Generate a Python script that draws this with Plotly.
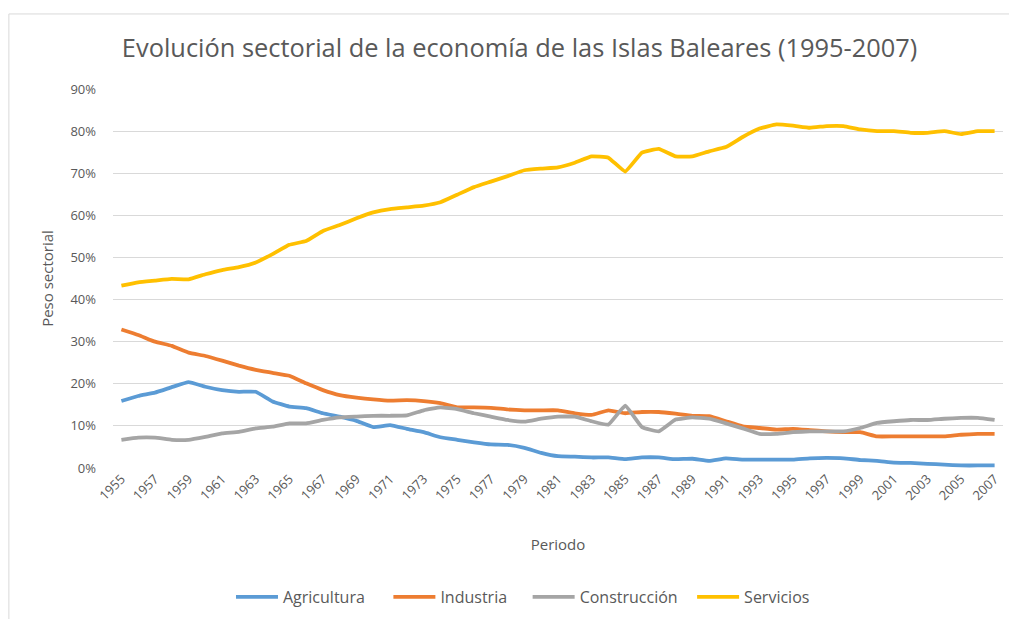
import plotly.graph_objects as go

years = list(range(1955, 2008))

agricultura = [15.9, 17.1, 17.9, 19.2, 20.4, 19.3, 18.5, 18.1, 18.1, 15.8,
               14.6, 14.2, 13.0, 12.2, 11.2, 9.7, 10.2, 9.3, 8.5, 7.3,
               6.7, 6.1, 5.6, 5.5, 4.8, 3.6, 2.8, 2.7, 2.5, 2.5,
               2.1, 2.5, 2.5, 2.1, 2.2, 1.7, 2.3, 2.0, 2.0, 2.0,
               2.0, 2.3, 2.4, 2.3, 1.9, 1.7, 1.3, 1.2, 1.0, 0.8,
               0.6, 0.6, 0.6]

industria = [32.9, 31.6, 30.0, 29.0, 27.4, 26.6, 25.5, 24.3, 23.3, 22.6,
             21.9, 20.1, 18.5, 17.3, 16.7, 16.3, 16.0, 16.1, 15.9, 15.4,
             14.4, 14.4, 14.3, 13.9, 13.7, 13.7, 13.7, 13.0, 12.6, 13.7,
             13.0, 13.3, 13.3, 12.9, 12.4, 12.3, 11.1, 9.9, 9.5, 9.1,
             9.3, 9.0, 8.7, 8.5, 8.5, 7.5, 7.5, 7.5, 7.5, 7.5,
             7.9, 8.1, 8.1]

construccion = [6.7, 7.2, 7.2, 6.7, 6.7, 7.4, 8.2, 8.6, 9.4, 9.8,
                10.6, 10.6, 11.4, 12.0, 12.2, 12.4, 12.4, 12.5, 13.7, 14.4,
                14.0, 13.0, 12.2, 11.4, 11.0, 11.7, 12.2, 12.2, 11.1, 10.3,
                14.8, 9.7, 8.7, 11.5, 12.0, 11.7, 10.6, 9.4, 8.1, 8.1,
                8.5, 8.7, 8.7, 8.7, 9.5, 10.7, 11.1, 11.4, 11.4, 11.7,
                11.9, 11.9, 11.4]

servicios = [43.3, 44.1, 44.5, 44.9, 44.8, 46.0, 47.0, 47.7, 48.8, 50.8,
             53.0, 53.9, 56.3, 57.7, 59.3, 60.7, 61.5, 61.9, 62.3, 63.1,
             64.9, 66.7, 68.0, 69.3, 70.7, 71.1, 71.4, 72.5, 74.0, 73.7,
             70.4, 74.9, 75.8, 74.0, 74.0, 75.2, 76.2, 78.6, 80.6, 81.6,
             81.3, 80.8, 81.2, 81.2, 80.4, 80.0, 80.0, 79.6, 79.6, 80.0,
             79.3, 80.0, 80.0]

series_names = ["Agricultura", "Industria", "Construcción", "Servicios"]
series_values = [agricultura, industria, construccion, servicios]
series_colors = ["#5B9BD5", "#ED7D31", "#A5A5A5", "#FFC000"]

tick_years = years[::2]
y_ticks = [0, 0.1, 0.2, 0.3, 0.4, 0.5, 0.6, 0.7, 0.8, 0.9]

FONT = "Open Sans, Liberation Sans, sans-serif"
GREY = "#595959"

legend_ids = ["legend", "legend2", "legend3", "legend4"]
legend_x = [0.221, 0.377, 0.515, 0.678]

fig = go.Figure()
for name, vals, col, lid in zip(series_names, series_values, series_colors, legend_ids):
    fig.add_trace(go.Scatter(
        x=years, y=[v / 100 for v in vals], name=name, mode="lines",
        line=dict(color=col, width=3.8, shape="spline", smoothing=0.3),
        legend=lid,
    ))

legend_layout = {}
for lid, lx in zip(legend_ids, legend_x):
    legend_layout[lid] = dict(
        orientation="h", x=lx, xanchor="left", xref="container",
        y=0.036, yanchor="middle", yref="container",
        font=dict(family=FONT, size=16, color=GREY),
        itemwidth=42, bgcolor="rgba(0,0,0,0)",
    )

fig.update_layout(
    width=1009, height=611,
    paper_bgcolor="white", plot_bgcolor="white",
    margin=dict(l=105, r=14, t=81, b=151, autoexpand=False),
    font=dict(family=FONT, color=GREY),
    title=dict(
        text="Evolución sectorial de la economía de las Islas Baleares (1995-2007)",
        font=dict(family=FONT, size=25.4, color=GREY),
        x=0.507, xanchor="center", xref="container", y=0.9345, yanchor="middle",
    ),
    showlegend=True,
    xaxis=dict(
        range=[1954.5, 2007.5], tickmode="array", tickvals=tick_years,
        ticktext=[str(y) for y in tick_years], tickangle=-45,
        tickfont=dict(family=FONT, size=13, color=GREY),
        showgrid=False, zeroline=False, showline=False, ticks="",
        title=dict(text="Periodo", font=dict(family=FONT, size=15, color=GREY), standoff=36),
    ),
    yaxis=dict(
        range=[0, 0.9], tickmode="array", tickvals=y_ticks, tickformat=".0%",
        tickfont=dict(family=FONT, size=13, color=GREY),
        showgrid=True, gridcolor="#D9D9D9", gridwidth=1, zeroline=False,
        showline=False, ticks="", ticklen=0, ticklabelstandoff=16,
        title=dict(text="Peso sectorial", font=dict(family=FONT, size=15, color=GREY), standoff=13),
    ),
    shapes=[dict(
        type="rect", xref="paper", yref="paper",
        x0=-0.117, x1=1.05, y0=-0.45, y1=1.198,
        line=dict(color="#D9D9D9", width=1), layer="below",
    )],
    **legend_layout,
)

fig.write_html("out.html")
